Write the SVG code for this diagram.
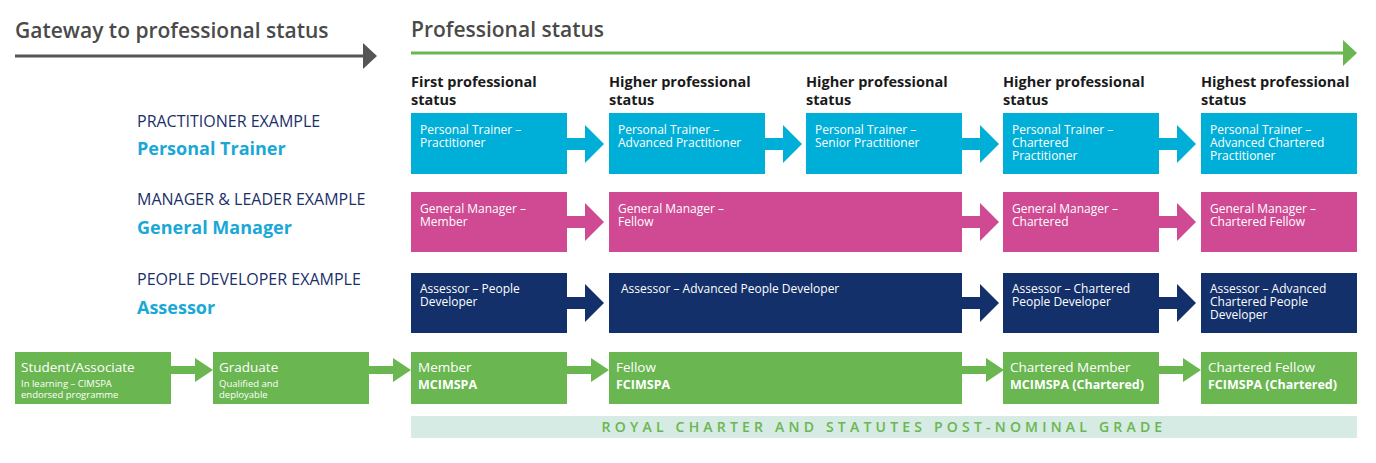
<svg xmlns="http://www.w3.org/2000/svg" width="1376" height="463" viewBox="0 0 1376 463">
<style>
text{font-family:"Open Sans","Liberation Sans",sans-serif}
.h{font-size:21px;font-weight:600;fill:#4a4a4a}
.col{font-size:14.5px;font-weight:700;fill:#1a1a1a}
.ex{font-size:16px;fill:#1b2f6b}
.exb{font-size:18px;font-weight:700;fill:#1aa8d6}
.t{font-size:12px;fill:#fff}
.s{font-size:9.5px;fill:#fff}
.b{font-size:12.5px;font-weight:700;fill:#fff}
.bl{fill:#00AFD8}.pk{fill:#CF4A93}.nv{fill:#13306B}.gr{fill:#6AB650}
</style>
<defs>
<path id="arr" d="M0,-6 H18 V-19 L37,0 L18,19 V6 H0 Z"/>
<path id="arrs" d="M0,-4 H24 V-12 L42,0 L24,12 V4 H0 Z"/>
</defs>
<g id="headers">
<text class="h" x="15" y="38">Gateway to professional status</text>
<text class="h" x="411" y="37">Professional status</text>
<text class="col" x="411" y="87">First professional</text><text class="col" x="411" y="105">status</text>
<text class="col" x="609" y="87">Higher professional</text><text class="col" x="609" y="105">status</text>
<text class="col" x="806" y="87">Higher professional</text><text class="col" x="806" y="105">status</text>
<text class="col" x="1003" y="87">Higher professional</text><text class="col" x="1003" y="105">status</text>
<text class="col" x="1201" y="87">Highest professional</text><text class="col" x="1201" y="105">status</text>
<text class="ex" x="137" y="127">PRACTITIONER EXAMPLE</text><text class="exb" x="137" y="155">Personal Trainer</text>
<text class="ex" x="137" y="205">MANAGER &amp; LEADER EXAMPLE</text><text class="exb" x="137" y="234">General Manager</text>
<text class="ex" x="137" y="285">PEOPLE DEVELOPER EXAMPLE</text><text class="exb" x="137" y="314">Assessor</text>
</g>
<g id="connectors">
<path d="M15,56 H365" stroke="#555" stroke-width="3"/><path d="M363,43 L377,56 L363,69 Z" fill="#555"/>
<path d="M411,53 H1345" stroke="#6AB650" stroke-width="3"/><path d="M1343,40 L1357,53 L1343,66 Z" fill="#6AB650"/>
<use href="#arr" class="bl" x="567" y="144"/><use href="#arr" class="bl" x="765" y="144"/><use href="#arr" class="bl" x="962" y="144"/><use href="#arr" class="bl" x="1159" y="144"/>
<use href="#arr" class="pk" x="567" y="222"/><use href="#arr" class="pk" x="962" y="222"/><use href="#arr" class="pk" x="1159" y="222"/>
<use href="#arr" class="nv" x="567" y="303"/><use href="#arr" class="nv" x="962" y="303"/><use href="#arr" class="nv" x="1159" y="303"/>
<use href="#arrs" class="gr" x="171" y="370"/><use href="#arrs" class="gr" x="369" y="370"/><use href="#arrs" class="gr" x="567" y="370"/><use href="#arrs" class="gr" x="962" y="370"/><use href="#arrs" class="gr" x="1159" y="370"/>
</g>
<g id="pt1"><rect class="bl" x="411" y="113" width="156" height="61"/><text class="t" x="420" y="134">Personal Trainer –</text><text class="t" x="420" y="147">Practitioner</text></g>
<g id="pt2"><rect class="bl" x="609" y="113" width="156" height="61"/><text class="t" x="618" y="134">Personal Trainer –</text><text class="t" x="618" y="147">Advanced Practitioner</text></g>
<g id="pt3"><rect class="bl" x="806" y="113" width="156" height="61"/><text class="t" x="815" y="134">Personal Trainer –</text><text class="t" x="815" y="147">Senior Practitioner</text></g>
<g id="pt4"><rect class="bl" x="1003" y="113" width="156" height="61"/><text class="t" x="1012" y="134">Personal Trainer –</text><text class="t" x="1012" y="147">Chartered</text><text class="t" x="1012" y="160">Practitioner</text></g>
<g id="pt5"><rect class="bl" x="1201" y="113" width="156" height="61"/><text class="t" x="1210" y="134">Personal Trainer –</text><text class="t" x="1210" y="147">Advanced Chartered</text><text class="t" x="1210" y="160">Practitioner</text></g>
<g id="gm1"><rect class="pk" x="411" y="192" width="156" height="60"/><text class="t" x="420" y="213">General Manager –</text><text class="t" x="420" y="226">Member</text></g>
<g id="gm2"><rect class="pk" x="609" y="192" width="353" height="60"/><text class="t" x="618" y="213">General Manager –</text><text class="t" x="618" y="226">Fellow</text></g>
<g id="gm3"><rect class="pk" x="1003" y="192" width="156" height="60"/><text class="t" x="1012" y="213">General Manager –</text><text class="t" x="1012" y="226">Chartered</text></g>
<g id="gm4"><rect class="pk" x="1201" y="192" width="156" height="60"/><text class="t" x="1210" y="213">General Manager –</text><text class="t" x="1210" y="226">Chartered Fellow</text></g>
<g id="as1"><rect class="nv" x="411" y="273" width="156" height="60"/><text class="t" x="420" y="293">Assessor – People</text><text class="t" x="420" y="306">Developer</text></g>
<g id="as2"><rect class="nv" x="609" y="273" width="353" height="60"/><text class="t" x="621" y="293">Assessor – Advanced People Developer</text></g>
<g id="as3"><rect class="nv" x="1003" y="273" width="156" height="60"/><text class="t" x="1012" y="293">Assessor – Chartered</text><text class="t" x="1012" y="306">People  Developer</text></g>
<g id="as4"><rect class="nv" x="1201" y="273" width="156" height="60"/><text class="t" x="1210" y="293">Assessor – Advanced</text><text class="t" x="1210" y="306">Chartered People</text><text class="t" x="1210" y="319">Developer</text></g>
<g id="g1"><rect class="gr" x="15" y="352" width="156" height="52"/><text class="t" x="21" y="372" style="font-size:13.5px">Student/Associate</text><text class="s" x="21" y="387">In learning – CIMSPA</text><text class="s" x="21" y="398">endorsed programme</text></g>
<g id="g2"><rect class="gr" x="213" y="352" width="156" height="52"/><text class="t" x="219" y="372" style="font-size:13.5px">Graduate</text><text class="s" x="219" y="387">Qualified and</text><text class="s" x="219" y="398">deployable</text></g>
<g id="g3"><rect class="gr" x="411" y="352" width="156" height="52"/><text class="t" x="418" y="372" style="font-size:13.5px">Member</text><text class="b" x="418" y="389">MCIMSPA</text></g>
<g id="g4"><rect class="gr" x="609" y="352" width="353" height="52"/><text class="t" x="616" y="372" style="font-size:13.5px">Fellow</text><text class="b" x="616" y="389">FCIMSPA</text></g>
<g id="g5"><rect class="gr" x="1003" y="352" width="156" height="52"/><text class="t" x="1010" y="372" style="font-size:13.5px">Chartered Member</text><text class="b" x="1010" y="389">MCIMSPA (Chartered)</text></g>
<g id="g6"><rect class="gr" x="1201" y="352" width="156" height="52"/><text class="t" x="1208" y="372" style="font-size:13.5px">Chartered Fellow</text><text class="b" x="1208" y="389">FCIMSPA (Chartered)</text></g>
<g id="band"><rect x="411" y="416" width="946" height="22" fill="#D5EBE3"/><text x="884" y="432" text-anchor="middle" style="font-size:14px;letter-spacing:4.2px;fill:#6AB650;font-weight:600">ROYAL CHARTER AND STATUTES POST-NOMINAL GRADE</text></g>
</svg>
